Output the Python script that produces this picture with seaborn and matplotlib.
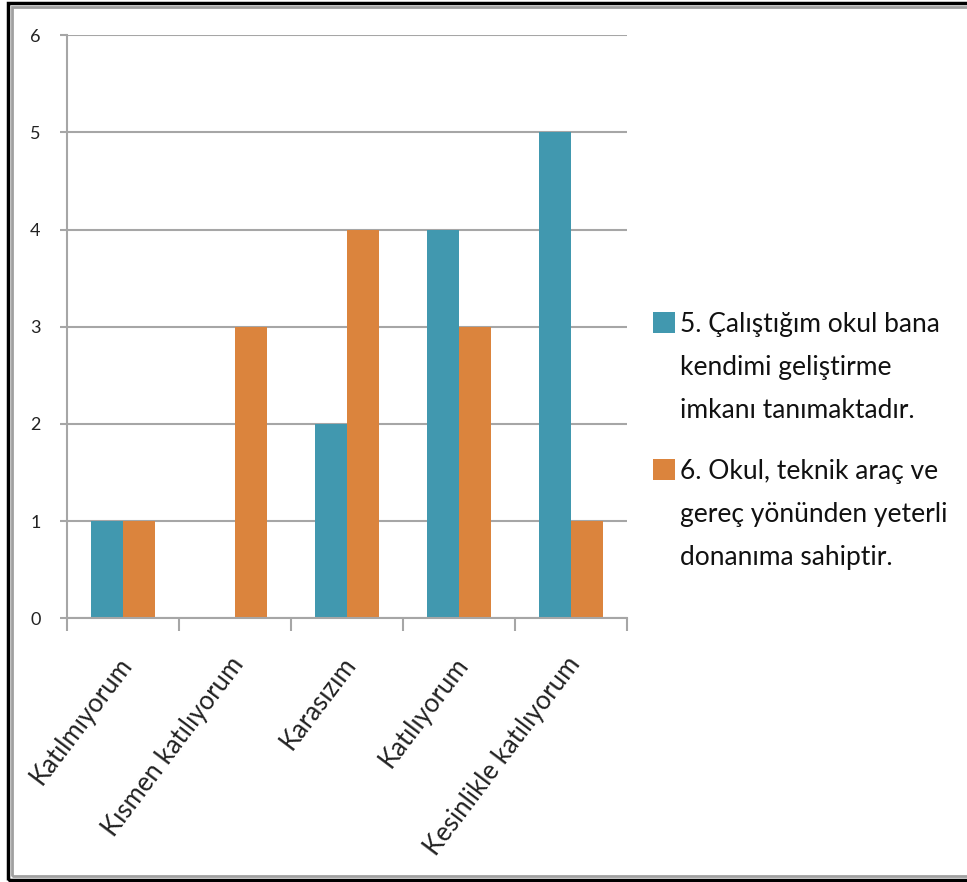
import matplotlib
matplotlib.use("Agg")
import matplotlib.pyplot as plt
import matplotlib.transforms as mtransforms
import seaborn as sns
import pandas as pd
from matplotlib.patches import Rectangle

categories = ["Katılmıyorum", "Kısmen katılıyorum", "Karasızım", "Katılıyorum", "Kesinlikle katılıyorum"]
series_names = ["5. Çalıştığım okul bana\nkendimi geliştirme\nimkanı tanımaktadır.",
                "6. Okul, teknik araç ve\ngereç yönünden yeterli\ndonanıma sahiptir."]
values_5 = [1, 0, 2, 4, 5]
values_6 = [1, 3, 4, 3, 1]
colors = ["#4198AF", "#DB843D"]

df = pd.DataFrame({
    "cat": categories * 2,
    "series": [series_names[0]] * len(categories) + [series_names[1]] * len(categories),
    "value": values_5 + values_6,
})

sns.set_theme(style="white")
plt.rcParams['font.family'] = ['Lato', 'DejaVu Sans']

fig = plt.figure(figsize=(9.67, 8.82), dpi=100)
ax = fig.add_axes([0.0693, 0.299, 0.5793, 0.661])

sns.barplot(data=df, x="cat", y="value", hue="series", palette=colors,
            width=0.572, saturation=1, ax=ax, legend=True, gap=0, linewidth=0)

ax.set_ylim(0, 6)
ax.set_xlim(-0.5, len(categories) - 0.5)
ax.set_yticks(range(0, 7))
ax.yaxis.grid(True, color="#A6A6A6", linewidth=1.5)
ax.set_axisbelow(True)
for s in ["top", "right"]:
    ax.spines[s].set_visible(False)
for s in ["left", "bottom"]:
    ax.spines[s].set_color("#A6A6A6")
    ax.spines[s].set_linewidth(1.5)
ax.set_xlabel("")
ax.set_ylabel("")

# y ticks
ax.tick_params(axis="y", which="major", direction="out", length=5, width=1.5,
               color="#A6A6A6", left=True, labelsize=13, pad=14, labelcolor="#222222")
# x: labels at centers, tick marks at boundaries
ax.set_xticks(range(len(categories)))
ax.set_xticklabels(categories, rotation=53, ha="right", va="center",
                   rotation_mode="anchor", fontsize=18.5, color="#222222")
ax.tick_params(axis="x", which="major", length=0, pad=30)
offset = mtransforms.ScaledTranslation(0.04, 0, fig.dpi_scale_trans)
for lbl in ax.get_xticklabels():
    lbl.set_transform(lbl.get_transform() + offset)
ax.set_xticks([i - 0.5 for i in range(len(categories) + 1)], minor=True)
ax.tick_params(axis="x", which="minor", direction="out", length=9, width=1.5,
               color="#A6A6A6", bottom=True)

handles, labels = ax.get_legend_handles_labels()
leg = ax.legend(handles, labels, loc="upper left", bbox_to_anchor=(0.664, 0.658),
                bbox_transform=fig.transFigure, frameon=False, fontsize=19,
                handlelength=0.85, handleheight=0.85, handletextpad=0.2,
                labelspacing=1.35, borderaxespad=0)
for t in leg.get_texts():
    t.set_linespacing(1.9)
    t.set_color("#111111")
for col in leg._legend_handle_box.get_children():
    for hp in col.get_children():
        hp.align = "top"

# double frame (right side runs past the image edge, as in the reference)
fig.patches.append(Rectangle((8 / 967, 2 / 882), 980 / 967, 877 / 882, transform=fig.transFigure,
                             fill=False, edgecolor="black", linewidth=2.5))
fig.patches.append(Rectangle((12 / 967, 6 / 882), 980 / 967, 869 / 882, transform=fig.transFigure,
                             fill=False, edgecolor="#A0A0A0", linewidth=2))

fig.savefig("out.png", dpi=100)
